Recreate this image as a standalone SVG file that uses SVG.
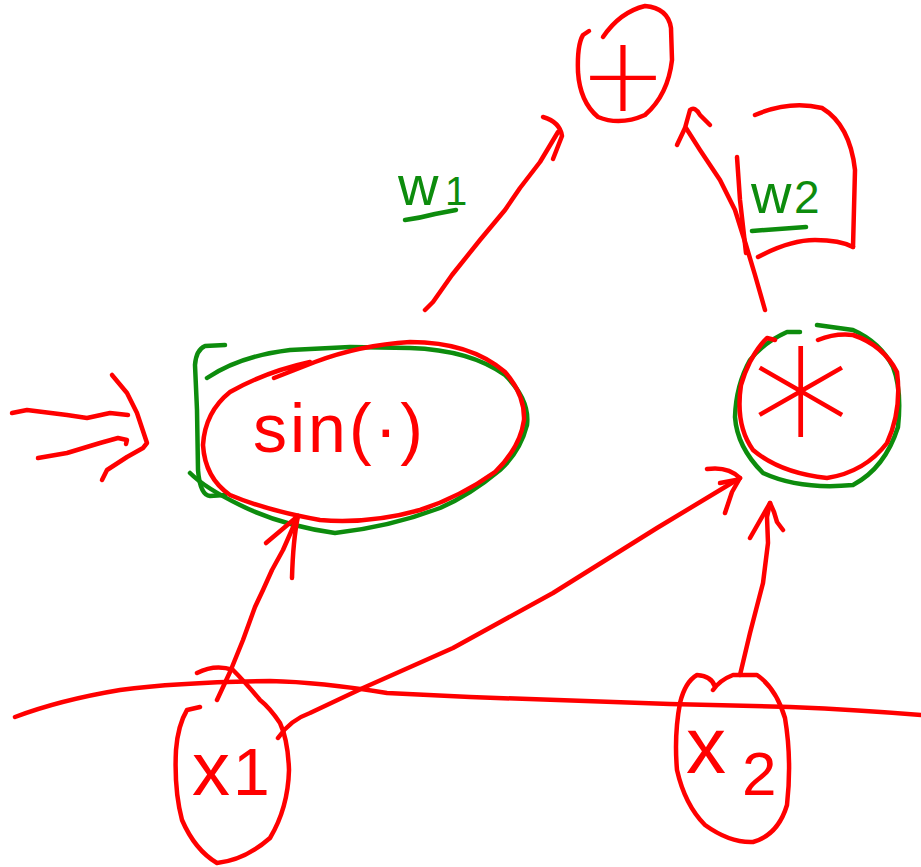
<svg xmlns="http://www.w3.org/2000/svg" width="921" height="867" viewBox="0 0 921 867">
  <style>
    .ink { fill: none; stroke-width: 4.5; stroke-linecap: round; stroke-linejoin: round; }
    .red { stroke: #ff0000; }
    .green { stroke: #0d8c0d; }
    .lbl { font-family: "Liberation Sans", "DejaVu Sans", sans-serif; fill: #ff0000; }
    .sym { font-family: "DejaVu Sans", "Liberation Sans", sans-serif; font-weight: 200; fill: #ff0000; }
    .wlbl { font-family: "Liberation Sans", "DejaVu Sans", sans-serif; fill: #0d8c0d; }
  </style>
  <rect width="921" height="867" fill="#ffffff"/>

  <!-- sum node -->
  <g id="node-plus">
    <path class="ink red" d="M603,37 Q620,12 645,6 Q668,8 671,28 L672,60 Q668,95 645,115 Q620,126 598,117 Q580,102 578,72 Q577,45 583,35 L589,31"/>
    <text class="sym" x="623" y="111" font-size="105" text-anchor="middle">+</text>
  </g>

  <!-- sine node -->
  <g id="node-sin">
    <path class="ink green" d="M225,345 L205,346 Q196,350 195,365 L197,410 L198,470 Q200,495 210,496 L225,495"/>
    <path class="ink green" d="M207,378 Q240,356 290,350 L350,347 L410,348 Q470,350 505,375 Q530,400 527,425 Q520,452 500,470 Q470,495 440,508 Q390,527 335,533 Q280,525 240,505 Q205,488 190,473"/>
    <path class="ink red" d="M274,378 L315,362 Q360,345 410,342 Q470,342 505,372 Q525,395 524,420 Q520,448 495,472 Q460,497 420,510 Q370,524 320,520 Q265,510 230,495 Q205,478 203,445 Q205,412 230,392 Q265,372 310,362"/>
    <text class="lbl" x="253" y="452" font-size="68" letter-spacing="3">sin(·)</text>
  </g>

  <!-- product node -->
  <g id="node-mul">
    <path class="ink green" d="M800,332 L787,332 Q763,343 750,360 Q736,385 735,417 Q737,447 763,473 Q800,490 853,485 Q885,468 898,427 Q902,390 893,367 Q880,342 853,330 L817,325"/>
    <path class="ink red" d="M775,340 L767,338 Q750,355 741,385 Q735,425 753,450 Q780,473 827,478 Q865,472 887,443 Q902,410 897,372 Q883,345 853,335 Q835,333 818,340"/>
    <text class="sym" x="801" y="494" font-size="200" text-anchor="middle">*</text>
  </g>

  <!-- input x1 -->
  <g id="node-x1">
    <path class="ink red" d="M200,707 L187,710 Q178,725 176,750 Q174,790 182,820 Q195,850 217,863 Q245,860 270,838 Q288,808 289,770 Q288,740 280,723 Q270,708 260,700 Q245,682 233,670 Q215,664 197,673"/>
    <text class="lbl" x="192" y="795" font-size="76">x<tspan x="233" font-size="66">1</tspan></text>
  </g>

  <!-- input x2 -->
  <g id="node-x2">
    <path class="ink red" d="M715,687 Q712,676 697,675 Q685,682 680,703 Q674,735 677,770 Q685,805 705,825 Q730,843 753,842 Q778,835 787,805 Q792,760 785,718 Q776,688 757,675 L733,675 Q720,680 713,690"/>
    <text class="lbl" x="686" y="773" font-size="80">x<tspan x="742" y="795" font-size="62">2</tspan></text>
  </g>

  <!-- weight labels -->
  <g id="label-w1">
    <text class="wlbl" x="398" y="205" font-size="56">w<tspan x="445" font-size="40">1</tspan></text>
    <path class="ink green" d="M405,220 Q420,218 435,214 L456,210"/>
  </g>
  <g id="label-w2">
    <text class="wlbl" x="751" y="213" font-size="56">w<tspan x="794" font-size="46">2</tspan></text>
    <path class="ink green" d="M752,231 L806,227"/>
    <path class="ink red" d="M737,157 L740,200 L746,253"/>
    <path class="ink red" d="M755,115 Q790,100 822,108 Q850,125 855,170 L853,247"/>
    <path class="ink red" d="M758,257 Q790,240 815,240 Q840,240 853,247"/>
  </g>

  <!-- connectors -->
  <g id="connectors">
    <!-- sin -> + -->
    <path class="ink red" d="M425,310 L433,302 L452,275 L480,240 L505,210 L520,188 L540,162 L558,132"/>
    <path class="ink red" d="M543,117 Q560,122 562,136 L553,159"/>
    <!-- * -> + -->
    <path class="ink red" d="M765,310 L755,275 L746,245 L735,210 L720,180 L700,150 L686,128"/>
    <path class="ink red" d="M677,145 L685,128 L690,110 Q695,106 700,115 L710,125"/>
    <!-- x1 -> sin -->
    <path class="ink red" d="M217,700 L230,672 L243,640 L255,607 L263,590 L272,570 L283,550 L298,516"/>
    <path class="ink red" d="M266,543 L298,516 Q293,540 292,578"/>
    <!-- x1 -> * -->
    <path class="ink red" d="M278,738 Q290,720 310,713 L363,688 L453,648 L553,593 L617,553 L657,528 L740,478"/>
    <path class="ink red" d="M707,469 Q728,466 740,478 L732,492 L725,513"/>
    <path class="ink red" d="M720,483 L736,480"/>
    <!-- x2 -> * -->
    <path class="ink red" d="M740,675 L750,633 L763,583 L768,543 L767,517 L770,503"/>
    <path class="ink red" d="M750,538 L770,503 L774,512 L777,522 L783,530"/>
  </g>

  <!-- input arrow into the sine node -->
  <g id="input-arrow">
    <path class="ink red" d="M12,413 L27,410 L67,415 L87,418 L110,413 L128,415"/>
    <path class="ink red" d="M38,458 L67,453 L100,443 L118,438 L127,440 L126,444"/>
    <path class="ink red" d="M112,375 L127,393 L137,413 L147,443 L143,448 L127,457 L107,470 L102,480"/>
  </g>

  <!-- horizontal stroke across the inputs -->
  <g id="baseline-stroke">
    <path class="ink red" d="M15,717 Q60,700 120,690 Q180,682 270,681 Q320,682 387,693 L470,697 L670,704 L790,707 Q860,710 921,715"/>
  </g>
</svg>
